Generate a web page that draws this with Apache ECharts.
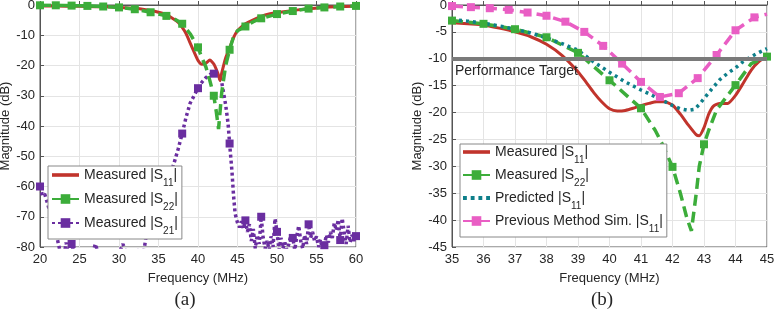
<!DOCTYPE html>
<html>
<head>
<meta charset="utf-8">
<script src="https://cdn.jsdelivr.net/npm/echarts@6/dist/echarts.min.js"></script>
<style>
  html, body { margin: 0; padding: 0; background: #fff; }
  #chart { width: 774px; height: 310px; }
</style>
</head>
<body>
<div id="chart"></div>
<script>
// ---- panel (a): 20-60 MHz ----
const aS11Freq = [20, 22, 24, 26, 28, 30, 32, 33, 34, 35, 36, 37, 37.5, 38, 38.5, 39, 39.5, 40, 40.5, 41, 41.5, 42, 42.5, 42.8, 43, 43.5, 44, 44.5, 45, 45.5, 46, 47, 48, 49, 50, 52, 54, 56, 58, 60]
const aS11 = [-0.3, -0.3, -0.4, -0.5, -0.6, -0.8, -1.1, -1.4, -1.8, -2.4, -3.2, -4.8, -5.8, -7.4, -9.5, -12.5, -15.5, -18.3, -19.6, -19.2, -18.2, -19.5, -22.5, -25, -22.5, -17.5, -14.2, -10.8, -8.5, -7.2, -6.2, -4.9, -3.8, -3.0, -2.5, -1.8, -1.2, -0.8, -0.5, -0.4]

const aS22Freq = [20, 22, 24, 26, 28, 30, 32, 34, 36, 37, 38, 39, 40, 40.5, 41, 41.5, 42, 42.3, 42.6, 42.8, 43, 43.5, 44, 44.5, 45, 46, 47, 48, 50, 52, 54, 56, 58, 60]
const aS22 = [-0.1, -0.1, -0.2, -0.3, -0.5, -0.8, -1.4, -2.4, -3.6, -4.6, -6.2, -9.5, -14, -17.5, -20.5, -25, -30, -35, -41, -35, -29, -20, -14.8, -10.5, -8.5, -7.1, -5.5, -4.4, -3, -2, -1.2, -0.8, -0.5, -0.3]
const aS22Marks = [20, 22, 24, 26, 28, 30, 32, 34, 36, 38, 40, 42, 44, 46, 48, 50, 52, 54, 56, 58, 60]

const aS21Freq = [20, 20.3, 20.6, 21, 21.5, 22, 22.5, 23, 23.3, 23.6, 24, 24.5, 25, 25.5, 26, 26.5, 27, 27.5, 28, 28.5, 29, 29.5, 30, 30.5, 31, 31.5, 32, 32.5, 33, 33.4, 34, 34.5, 35, 35.5, 36, 36.5, 37, 37.5, 38, 38.5, 39, 39.5, 40, 40.5, 41, 41.5, 42, 42.5, 43, 43.5, 43.8, 44, 44.3, 44.5, 44.7,
  45, 45.25, 45.5, 45.75, 46, 46.25, 46.5, 46.75, 47, 47.25, 47.5, 47.75, 48, 48.25, 48.5, 48.75, 49, 49.25, 49.5, 49.75, 50, 50.25, 50.5, 50.75, 51, 51.25, 51.5, 51.75, 52, 52.25, 52.5, 52.75, 53, 53.25, 53.5, 53.75, 54, 54.25, 54.5, 54.75, 55, 55.25, 55.5, 55.75, 56, 56.25, 56.5, 56.75, 57, 57.25, 57.5, 57.75, 58, 58.25, 58.5, 58.75, 59, 59.25, 59.5, 59.75, 60]
const aS21 = [-60, -63, -62.5, -66, -71, -75, -81, -84, -78.5, -83, -79, -84, -82, -85, -83, -84, -79, -83, -84, -82, -85, -83, -82, -79, -83, -84, -82, -81, -84, -77, -76, -72, -68, -64, -60, -56, -52, -47.5, -42.5, -37, -32.5, -30, -27.5, -25.5, -24, -23, -22.7, -23, -25.5, -33, -39, -45.8, -55, -63, -69,
  -72, -73.5, -71.5, -74, -71.2, -75, -72.5, -78, -74, -80.5, -76, -79, -70, -77, -80.5, -78, -81, -76.5, -80, -70.6, -75, -81, -77, -80.5, -78.5, -81, -79, -76, -77, -81, -76.5, -73, -78, -80.5, -76, -79, -72.5, -77, -75, -78, -76.5, -80, -77.5, -81, -79.4, -76, -78.5, -75, -77, -72, -74.5, -71, -77.7, -70.5, -75, -79, -73, -78.5, -76, -78, -76.4]
const aS21Marks = [20, 22, 24, 26, 28, 30, 32, 34, 36, 38, 40, 42, 44, 46, 48, 50, 52, 54, 56, 58, 60]

// ---- panel (b): 35-45 MHz ----
const bS11Freq = [35, 35.5, 36, 36.5, 37, 37.5, 38, 38.5, 39, 39.25, 39.5, 39.75, 40, 40.25, 40.5, 40.75, 41, 41.25, 41.5, 41.75, 42, 42.25, 42.5, 42.75, 42.85, 43, 43.15, 43.3, 43.5, 43.75, 44, 44.25, 44.5, 44.75, 45]
const bS11 = [-3.3, -3.5, -3.7, -4.3, -5, -5.9, -7.3, -9.4, -12.4, -14.3, -16.3, -18, -19.3, -19.7, -19.6, -19.2, -18.7, -18.3, -18, -18, -18.6, -20.3, -22.3, -24.1, -24.3, -22.8, -20.3, -18.8, -18.3, -18.3, -16.8, -14.5, -12.1, -10.5, -9.5]

const bS22Freq = [35, 36, 37, 38, 39, 40, 41, 41.45, 41.67, 42, 42.25, 42.45, 42.6, 42.75, 42.85, 43, 43.15, 43.4, 44, 44.5, 45]
const bS22 = [-2.9, -3.5, -4.5, -6, -8.9, -14, -19.2, -23.3, -25.8, -30.1, -35, -39.5, -42, -35.2, -30, -25.9, -23.3, -19.5, -14.9, -10.9, -9.6]
const bS22Marks = [35, 36, 37, 38, 39, 40, 41, 42, 43, 44, 45]

const bPredFreq = [35, 35.5, 36, 36.5, 37, 37.5, 38, 38.5, 39, 39.5, 40, 40.5, 41, 41.5, 42, 42.25, 42.5, 42.7, 42.85, 43, 43.25, 43.5, 43.75, 44, 44.25, 44.5, 44.75, 45]
const bPred = [-2.7, -3.0, -3.4, -3.9, -4.5, -5.2, -6.1, -7.2, -8.4, -10.6, -12.5, -14.3, -15.8, -17.2, -18.7, -19.3, -19.6, -19.4, -18.5, -17.4, -15.6, -13.9, -12.7, -11.7, -10.5, -9.6, -8.8, -8.1]

const bPrevFreq = [35, 35.6, 36.2, 36.8, 37.4, 38, 38.6, 39.2, 39.8, 40.4, 41, 41.6, 42.2, 42.8, 43.4, 44, 44.6, 45]
const bPrev = [-0.2, -0.4, -0.6, -0.9, -1.4, -2.0, -3.1, -5, -7.6, -10.9, -14.3, -17.1, -16.4, -13.6, -9.3, -4.7, -2.3, -1.7]
const bPrevMarks = [35, 35.6, 36.2, 36.8, 37.4, 38, 38.6, 39.2, 39.8, 40.4, 41, 41.6, 42.2, 42.8, 43.4, 44, 44.6]

const targetLevel = -10

const textColor = '#262626'
const axisColor = '#555'
const gridColor = '#e4e4e4'
const font = 'Liberation Sans, Arial, sans-serif'

const red = '#c1342c'
const green = '#3cad3a'
const purple = '#6a2ea0'
const teal = '#0e7f8a'
const pink = '#e95ec4'

// legend icons for the series drawn without markers
const solidIcon = 'path://M0,0H30V4H0Z'
const dotIcon = 'path://M0,0h4v4h-4z M8,0h4v4h-4z M16,0h4v4h-4z M24,0h4v4h-4z'

function points(freqs, vals, marks) {
  return freqs.map((f, i) => {
    const item = { value: [f, vals[i]] }
    if (marks) item.symbol = marks.includes(f) ? 'rect' : 'none'
    return item
  })
}

function legendText(name) {
  const m = name.match(/^(.*\|S)(\d+)(\|)$/)
  return `{n|${m[1]}}{s|${m[2]}}{n|${m[3]}}`
}

const legendRich = {
  n: { fontSize: 14, color: textColor, fontFamily: font, lineHeight: 20 },
  s: { fontSize: 10, color: textColor, fontFamily: font, lineHeight: 20, verticalAlign: 'bottom', padding: [0, 0, -3, 0] }
}

function xAxis(grid, min, max, interval) {
  return {
    type: 'value', gridIndex: grid, min, max, interval,
    name: 'Frequency (MHz)', nameLocation: 'middle', nameGap: 25,
    nameTextStyle: { fontSize: 13, color: textColor, fontFamily: font },
    axisLine: { show: true, lineStyle: { color: axisColor } },
    axisTick: { show: true, inside: true, length: 4, lineStyle: { color: axisColor } },
    axisLabel: { fontSize: 13, color: textColor, fontFamily: font, margin: 6, showMinLabel: true, showMaxLabel: true, hideOverlap: false },
    splitLine: { show: true, lineStyle: { color: gridColor } }
  }
}

function yAxis(grid, min, interval, gap) {
  return {
    type: 'value', gridIndex: grid, min, max: 0, interval,
    name: 'Magnitude (dB)', nameLocation: 'middle', nameGap: gap,
    nameTextStyle: { fontSize: 13, color: textColor, fontFamily: font },
    axisLine: { show: true, lineStyle: { color: axisColor } },
    axisTick: { show: true, inside: true, length: 4, lineStyle: { color: axisColor } },
    axisLabel: { fontSize: 13, color: textColor, fontFamily: font, margin: 5, showMinLabel: true, showMaxLabel: true, hideOverlap: false },
    splitLine: { show: true, lineStyle: { color: gridColor } }
  }
}

const chart = echarts.init(document.getElementById('chart'))

chart.setOption({
  animation: false,
  backgroundColor: '#fff',
  grid: [
    { left: 40, top: 5, width: 316, height: 242, show: true, borderColor: axisColor, borderWidth: 1, outerBoundsMode: 'none' },
    { left: 452, top: 5, width: 315, height: 242, show: true, borderColor: axisColor, borderWidth: 1, outerBoundsMode: 'none' }
  ],
  xAxis: [xAxis(0, 20, 60, 5), xAxis(1, 35, 45, 1)],
  yAxis: [yAxis(0, -80, 10, 28), yAxis(1, -45, 5, 27)],
  legend: [
    {
      orient: 'vertical', left: 48, top: 166,
      data: [
        { name: 'Measured |S11|', icon: solidIcon },
        'Measured |S22|',
        'Measured |S21|'
      ],
      itemWidth: 27, itemHeight: 12, itemGap: 4,
      padding: [2, 4, 3, 3],
      backgroundColor: '#fff', borderColor: '#888', borderWidth: 1,
      formatter: legendText,
      textStyle: { rich: legendRich },
      selectedMode: false
    },
    {
      orient: 'vertical', left: 460, top: 144,
      data: [
        { name: 'Measured |S11|', icon: solidIcon },
        'Measured |S22|',
        { name: 'Predicted |S11|', icon: dotIcon },
        'Previous Method Sim. |S11|'
      ],
      itemWidth: 27, itemHeight: 12, itemGap: 3,
      padding: [1, 4, 3, 2],
      backgroundColor: '#fff', borderColor: '#888', borderWidth: 1,
      formatter: legendText,
      textStyle: { rich: legendRich },
      selectedMode: false
    }
  ],
  series: [
    {
      name: 'Measured |S21|', type: 'line', xAxisIndex: 0, yAxisIndex: 0,
      data: points(aS21Freq, aS21, aS21Marks),
      symbol: 'rect', symbolSize: 8, showAllSymbol: true,
      lineStyle: { color: purple, width: 3.5, type: [3, 3] },
      itemStyle: { color: purple }
    },
    {
      name: 'Measured |S11|', type: 'line', xAxisIndex: 0, yAxisIndex: 0,
      data: points(aS11Freq, aS11), symbol: 'none', smooth: 0.2,
      lineStyle: { color: red, width: 3 }, itemStyle: { color: red }
    },
    {
      name: 'Measured |S22|', type: 'line', xAxisIndex: 0, yAxisIndex: 0,
      data: points(aS22Freq, aS22, aS22Marks),
      symbol: 'rect', symbolSize: 8, showAllSymbol: true,
      lineStyle: { color: green, width: 3.5, type: [11, 6] },
      itemStyle: { color: green }
    },
    {
      name: 'Measured |S11|', type: 'line', xAxisIndex: 1, yAxisIndex: 1,
      data: points(bS11Freq, bS11), symbol: 'none', smooth: 0.2,
      lineStyle: { color: red, width: 3 }, itemStyle: { color: red },
      markLine: {
        silent: true, symbol: 'none',
        data: [{ yAxis: targetLevel }],
        lineStyle: { color: '#7a7a7a', width: 4, type: 'solid' },
        label: {
          position: 'insideStartBottom', distance: [3, 5],
          formatter: 'Performance Target',
          fontSize: 14, color: textColor, fontFamily: font
        }
      }
    },
    {
      name: 'Measured |S22|', type: 'line', xAxisIndex: 1, yAxisIndex: 1,
      data: points(bS22Freq, bS22, bS22Marks),
      symbol: 'rect', symbolSize: 8, showAllSymbol: true,
      lineStyle: { color: green, width: 3.5, type: [11, 6] },
      itemStyle: { color: green }
    },
    {
      name: 'Predicted |S11|', type: 'line', xAxisIndex: 1, yAxisIndex: 1,
      data: points(bPredFreq, bPred), symbol: 'none',
      lineStyle: { color: teal, width: 3.5, type: [3, 4] },
      itemStyle: { color: teal }
    },
    {
      name: 'Previous Method Sim. |S11|', type: 'line', xAxisIndex: 1, yAxisIndex: 1,
      data: points(bPrevFreq, bPrev, bPrevMarks),
      symbol: 'rect', symbolSize: 8, showAllSymbol: true,
      lineStyle: { color: pink, width: 3.5, type: [11, 6] },
      itemStyle: { color: pink }
    }
  ],
  graphic: [
    { type: 'text', style: { text: '(a)', x: 185, y: 300, align: 'center', verticalAlign: 'middle', fontSize: 19, fontFamily: 'Liberation Serif, serif', fill: textColor } },
    { type: 'text', style: { text: '(b)', x: 602, y: 300, align: 'center', verticalAlign: 'middle', fontSize: 19, fontFamily: 'Liberation Serif, serif', fill: textColor } }
  ]
})
</script>
</body>
</html>
